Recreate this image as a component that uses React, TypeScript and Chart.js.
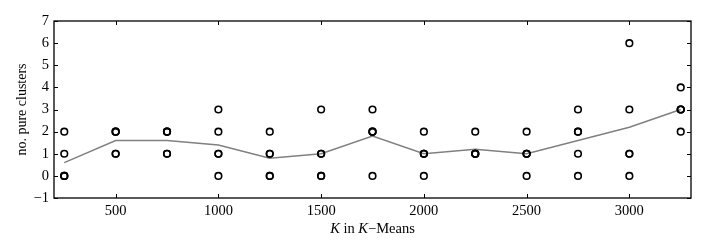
import React, { useEffect, useRef } from "react";
import { Chart, registerables } from "chart.js";

Chart.register(...registerables);

const kValues = [250, 500, 750, 1000, 1250, 1500, 1750, 2000, 2250, 2500, 2750, 3000, 3250];
const run1 = [0, 1, 1, 0, 0, 0, 0, 0, 1, 0, 0, 0, 2];
const run2 = [0, 1, 1, 1, 0, 0, 2, 1, 1, 1, 1, 1, 3];
const run3 = [0, 2, 2, 1, 1, 1, 2, 1, 1, 1, 2, 1, 3];
const run4 = [1, 2, 2, 2, 1, 1, 2, 1, 1, 1, 2, 3, 3];
const run5 = [2, 2, 2, 3, 2, 3, 3, 2, 2, 2, 3, 6, 4];
const meanValues = [0.6, 1.6, 1.6, 1.4, 0.8, 1.0, 1.8, 1.0, 1.2, 1.0, 1.6, 2.2, 3.0];
const xTicks = [500, 1000, 1500, 2000, 2500, 3000];
const yTicks = [-1, 0, 1, 2, 3, 4, 5, 6, 7];

const FONT = "'Liberation Serif', 'DejaVu Serif', serif";

const framePlugin = {
  id: "frame",
  afterDraw(chart: any) {
    const { ctx, chartArea } = chart;
    const { left, right, top, bottom } = chartArea;
    const xs = chart.scales.x;
    const ys = chart.scales.y;
    ctx.save();
    ctx.strokeStyle = "#000";
    ctx.lineWidth = 1;
    const tl = 4;
    ctx.beginPath();
    xTicks.forEach((v) => {
      const px = Math.round(xs.getPixelForValue(v)) + 0.5;
      ctx.moveTo(px, bottom);
      ctx.lineTo(px, bottom - tl);
      ctx.moveTo(px, top);
      ctx.lineTo(px, top + tl);
    });
    yTicks.forEach((v) => {
      const py = Math.round(ys.getPixelForValue(v)) + 0.5;
      ctx.moveTo(left, py);
      ctx.lineTo(left + tl, py);
      ctx.moveTo(right, py);
      ctx.lineTo(right - tl, py);
    });
    ctx.stroke();
    ctx.lineWidth = 1.3;
    ctx.strokeRect(left, top, right - left, bottom - top);

    // x title with italic K
    ctx.fillStyle = "#000";
    ctx.textBaseline = "middle";
    const parts = [
      { t: "K", f: `italic 14.5px ${FONT}` },
      { t: " in ", f: `14.5px ${FONT}` },
      { t: "K", f: `italic 14.5px ${FONT}` },
      { t: "\u2212Means", f: `14.5px ${FONT}` },
    ];
    let total = 0;
    parts.forEach((p) => {
      ctx.font = p.f;
      total += ctx.measureText(p.t).width;
    });
    let x = (left + right) / 2 - total / 2;
    const y = 229;
    ctx.textAlign = "left";
    parts.forEach((p) => {
      ctx.font = p.f;
      ctx.fillText(p.t, x, y);
      x += ctx.measureText(p.t).width;
    });

    // y title
    ctx.save();
    ctx.translate(22, (top + bottom) / 2);
    ctx.rotate(-Math.PI / 2);
    ctx.textAlign = "center";
    ctx.font = `14px ${FONT}`;
    ctx.fillText("no. pure clusters", 0, 0);
    ctx.restore();
    ctx.restore();
  },
};

export default function App() {
  const ref = useRef<HTMLCanvasElement>(null);
  useEffect(() => {
    document.body.style.margin = "0";
    const runs = [run1, run2, run3, run4, run5];
    const pts: { x: number; y: number }[] = [];
    runs.forEach((r) => r.forEach((v, i) => pts.push({ x: kValues[i], y: v })));
    const chart = new Chart(ref.current!, {
      type: "scatter",
      data: {
        datasets: [
          {
            type: "line",
            data: kValues.map((k, i) => ({ x: k, y: meanValues[i] })),
            borderColor: "#808080",
            borderWidth: 1.5,
            pointRadius: 0,
            fill: false,
            order: 2,
          } as any,
          {
            type: "scatter",
            data: pts,
            pointRadius: 3.3,
            pointBorderWidth: 1.6,
            borderColor: "#000",
            backgroundColor: "rgba(0,0,0,0)",
            order: 1,
          },
        ],
      },
      options: {
        animation: false,
        responsive: false,
        maintainAspectRatio: false,
        layout: { padding: { top: 21, right: 15, left: 0, bottom: 0 } },
        plugins: { legend: { display: false }, tooltip: { enabled: false } },
        scales: {
          x: {
            type: "linear",
            min: 200,
            max: 3300,
            grid: { display: false, drawTicks: false, tickLength: 0 },
            border: { display: false },
            afterBuildTicks: (s: any) => {
              s.ticks = xTicks.map((v) => ({ value: v }));
            },
            afterFit: (s: any) => {
              s.height = 54;
            },
            ticks: {
              color: "#000",
              font: { family: FONT, size: 14.5 },
              padding: 4,
              maxRotation: 0,
              callback: (v: any) => String(v),
            },
          },
          y: {
            type: "linear",
            min: -1,
            max: 7,
            grid: { display: false, drawTicks: false, tickLength: 0 },
            border: { display: false },
            afterBuildTicks: (s: any) => {
              s.ticks = yTicks.map((v) => ({ value: v }));
            },
            afterFit: (s: any) => {
              s.width = 54;
            },
            ticks: {
              color: "#000",
              font: { family: FONT, size: 14.5 },
              padding: 5,
              callback: (v: any) => (v < 0 ? "\u2212" + Math.abs(v) : String(v)),
            },
          },
        },
      },
      plugins: [framePlugin],
    });
    return () => chart.destroy();
  }, []);
  return (
    <div style={{ width: 706, height: 252 }}>
      <canvas ref={ref} width={706} height={252} style={{ display: "block" }} />
    </div>
  );
}
